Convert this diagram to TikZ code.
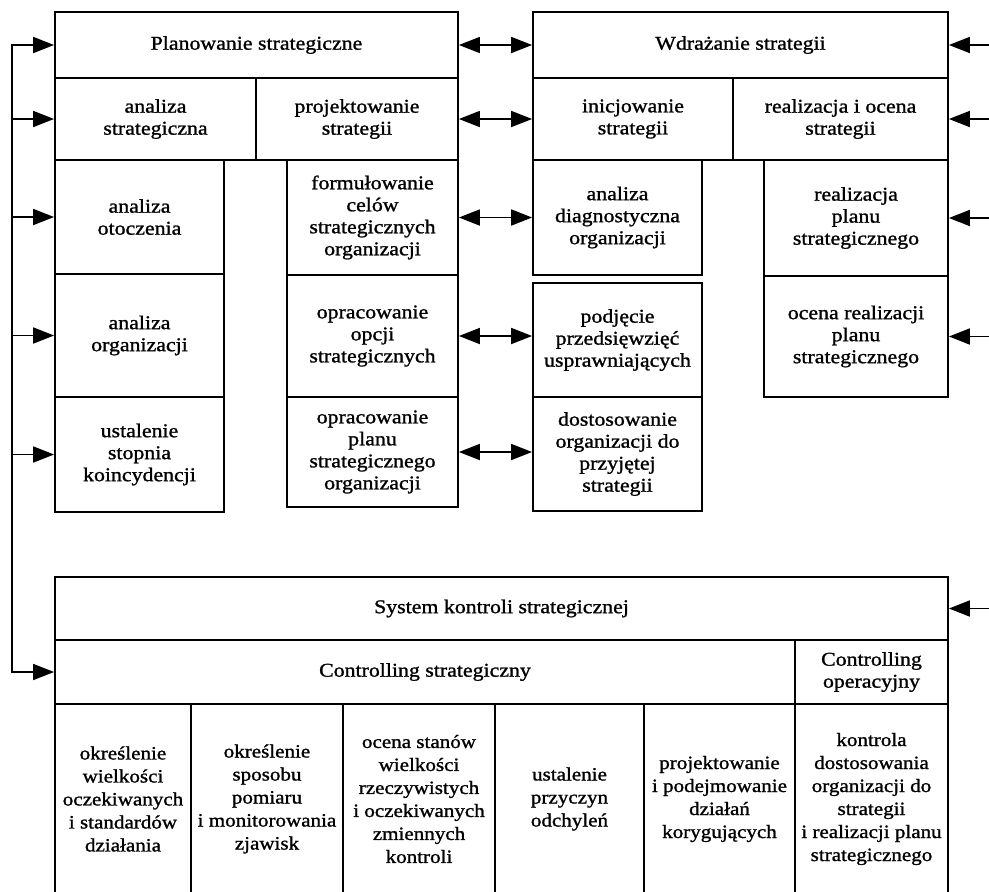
\documentclass[tikz,border=0pt]{standalone}
\usepackage{fontspec}
\setmainfont[FakeStretch=1.12,FakeBold=1.2]{Liberation Serif}
\usetikzlibrary{arrows.meta}
\tikzset{box/.style={draw,rectangle,inner sep=0pt,align=center,
		font=\fontsize{19.5}{22}\selectfont},
	cell/.style={box,font=\fontsize{18.8}{23}\selectfont},
	arr/.style={-{Triangle[length=21pt,width=16pt]}},
	dblarr/.style={{Triangle[length=21pt,width=16pt]}-{Triangle[length=21pt,width=16pt]}}}

\begin{document}
\begin{tikzpicture}
	[x=1pt,y=-1pt,line width=1.8pt]
	\useasboundingbox (0,0) rectangle (989,892);
	% planowanie
	\node[box,minimum width=403pt,minimum height=66pt] (plan) at (256.5,45) {Planowanie strategiczne};
	\node[box,minimum width=201pt,minimum height=82pt] (anstr) at (155.5,119) {analiza\\strategiczna};
	\node[box,minimum width=202pt,minimum height=82pt] (projstr) at (357,119) {projektowanie\\strategii};
	\node[box,minimum width=169pt,minimum height=114pt] (anot) at (139.5,217) {analiza\\otoczenia};
	\node[box,minimum width=169pt,minimum height=123pt] (anorg) at (139.5,335.5) {analiza\\organizacji};
	\node[box,minimum width=169pt,minimum height=115pt] (ustal) at (139.5,454.5) {ustalenie\\stopnia\\koincydencji};
	\node[box,minimum width=171pt,minimum height=115pt] (formul) at (372.5,217.5) {formułowanie\\celów\\strategicznych\\organizacji};
	\node[box,minimum width=171pt,minimum height=122pt] (opcji) at (372.5,336) {opracowanie\\opcji\\strategicznych};
	\node[box,minimum width=171pt,minimum height=110pt] (planorg) at (372.5,452) {opracowanie\\planu\\strategicznego\\organizacji};
	% wdrazanie
	\node[box,minimum width=415pt,minimum height=66pt] (wdr) at (740.5,45) {Wdrażanie strategii};
	\node[box,minimum width=200pt,minimum height=82pt] (inic) at (633,119) {inicjowanie\\strategii};
	\node[box,minimum width=215pt,minimum height=82pt] (realoc) at (840.5,119) {realizacja i ocena\\strategii};
	\node[box,minimum width=169pt,minimum height=115pt] (diag) at (617.5,217.5) {analiza\\diagnostyczna\\organizacji};
	\node[box,minimum width=169pt,minimum height=114pt] (podj) at (617.5,340) {podjęcie\\przedsięwzięć\\usprawniających};
	\node[box,minimum width=169pt,minimum height=114pt] (dost) at (617.5,454) {dostosowanie\\organizacji do\\przyjętej\\strategii};
	\node[box,minimum width=184pt,minimum height=116pt] (realpl) at (856,218) {realizacja\\planu\\strategicznego};
	\node[box,minimum width=184pt,minimum height=121pt] (ocena) at (856,336.5) {ocena realizacji\\planu\\strategicznego};
	% kontrola
	\node[box,minimum width=893pt,minimum height=63pt] (sys) at (501.5,608.5) {System kontroli strategicznej};
	\node[box,minimum width=740pt,minimum height=64pt] (cstr) at (425,672) {Controlling strategiczny};
	\node[box,minimum width=153pt,minimum height=64pt] (cop) at (871.5,672) {Controlling\\operacyjny};
	\node[cell,minimum width=136pt,minimum height=190pt] (c1) at (123,799) {określenie\\wielkości\\oczekiwanych\\i standardów\\działania};
	\node[cell,minimum width=152pt,minimum height=190pt] (c2) at (267,799) {określenie\\sposobu\\pomiaru\\i monitorowania\\zjawisk};
	\node[cell,minimum width=152pt,minimum height=190pt] (c3) at (419,799) {ocena stanów\\wielkości\\rzeczywistych\\i oczekiwanych\\zmiennych\\kontroli};
	\node[cell,minimum width=149pt,minimum height=190pt] (c4) at (569.5,799) {ustalenie\\przyczyn\\odchyleń};
	\node[cell,minimum width=151pt,minimum height=190pt] (c5) at (719.5,799) {projektowanie\\i podejmowanie\\działań\\korygujących};
	\node[cell,minimum width=153pt,minimum height=190pt] (c6) at (871.5,799) {kontrola\\dostosowania\\organizacji do\\strategii\\i realizacji planu\\strategicznego};
	% polaczenia
	\coordinate (fb) at (12,45);
	\coordinate (rin) at (989,45);
	\draw[dblarr] (plan.east) -- (wdr.west);
	\draw[dblarr] (projstr.east) -- (inic.west);
	\draw[dblarr] (formul.east) -- (formul.east -| diag.west);
	\draw[dblarr] (opcji.east) -- (opcji.east -| podj.west);
	\draw[dblarr] (planorg.east) -- (planorg.east -| dost.west);
	\draw[arr] (rin |- wdr.east) -- (wdr.east);
	\draw[arr] (rin |- realoc.east) -- (realoc.east);
	\draw[arr] (rin |- realpl.east) -- (realpl.east);
	\draw[arr] (rin |- ocena.east) -- (ocena.east);
	\draw[arr] (rin |- sys.east) -- (sys.east);
	\draw[line cap=rect] (fb |- plan.west) -- (fb |- cstr.west);
	\draw[arr] (fb |- plan.west) -- (plan.west);
	\draw[arr] (fb |- anstr.west) -- (anstr.west);
	\draw[arr] (fb |- anot.west) -- (anot.west);
	\draw[arr] (fb |- anorg.west) -- (anorg.west);
	\draw[arr] (fb |- ustal.west) -- (ustal.west);
	\draw[arr] (fb |- cstr.west) -- (cstr.west);
\end{tikzpicture}
\end{document}
